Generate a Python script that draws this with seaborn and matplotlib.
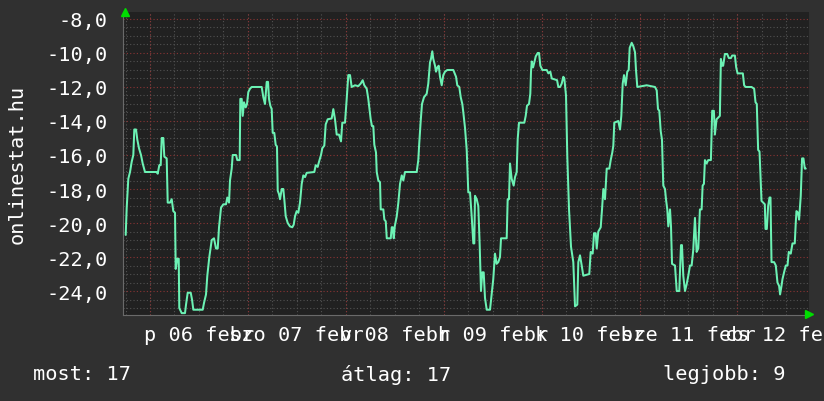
import matplotlib
matplotlib.use("Agg")
import matplotlib.pyplot as plt
from matplotlib.ticker import MultipleLocator, FixedLocator
import seaborn as sns
import pandas as pd

# hours since 6 Feb 00:00
hours = [-5.96, -5.71, -5.32, -4.90, -4.49, -4.09, -3.85, -3.43, -3.11, -2.70, -2.21, -1.79, -1.23,
         1.64, 1.89, 2.28, 2.62, 2.87, 3.26, 3.51, 4.09, 4.34, 4.90, 5.32, 5.71, 6.13, 6.30, 6.69,
         7.04, 7.18, 7.77, 8.58, 8.83, 9.24, 9.98, 10.30, 10.62, 12.92, 13.24, 13.73, 14.05, 14.54,
         15.13, 15.69, 16.18, 16.60, 16.92, 17.41, 17.97, 18.63, 18.95, 19.37, 19.61, 20.03, 20.27,
         21.08, 21.40, 21.99, 22.14, 22.48, 22.73, 23.04, 23.46, 23.78, 24.10, 24.52, 24.93, 27.38,
         27.78, 28.19, 28.61, 28.93, 29.17, 29.49, 29.83, 30.08, 30.47, 30.81, 31.13, 31.31, 31.62,
         31.87, 32.29, 32.68, 32.92, 33.27, 33.76, 34.32, 34.88, 35.23, 35.55, 35.96, 36.36, 36.77,
         37.19, 37.58, 38.00, 38.41, 40.28, 40.62, 41.11, 41.43, 41.92, 42.24, 42.73, 43.07, 43.56,
         44.54, 44.94, 45.35, 45.77, 46.33, 46.82, 47.14, 47.80, 48.22, 48.61, 49.03, 49.44, 50.25,
         51.06, 51.65, 52.14, 52.53, 53.12, 53.51, 54.10, 54.42, 54.74, 54.99, 55.40, 55.58, 55.97,
         56.39, 56.56, 57.20, 57.45, 57.79, 58.04, 59.02, 59.26, 59.51, 59.75, 60.00, 60.49, 60.88,
         61.29, 61.71, 62.10, 62.51, 65.38, 65.77, 66.02, 66.36, 66.68, 67.17, 67.83, 68.22, 68.64,
         68.88, 69.20, 69.45, 69.87, 70.11, 70.43, 70.77, 71.09, 71.51, 71.90, 72.32, 72.88, 74.35,
         75.02, 75.33, 75.82, 76.17, 76.56, 76.81, 77.22, 77.64, 78.03, 78.45, 78.86, 79.26, 79.50,
         79.67, 80.09, 80.48, 80.82, 81.14, 81.46, 81.80, 82.12, 82.54, 83.35, 83.76, 84.15, 84.57,
         84.98, 85.38, 85.80, 86.05, 87.44, 87.68, 88.00, 88.25, 88.66, 89.15, 89.48, 89.89, 90.14,
         90.46, 91.76, 92.10, 92.42, 92.91, 93.23, 93.40, 93.58, 93.90, 94.22, 94.56, 95.05, 95.37,
         95.69, 96.18, 97.26, 97.66, 98.14, 98.49, 99.79, 100.10, 100.52, 100.93, 101.32, 101.57,
         101.98, 102.30, 102.72, 103.21, 103.77, 104.19, 104.75, 105.00, 105.41, 105.83, 106.22,
         107.69, 108.03, 108.52, 108.85, 109.26, 109.51, 109.90, 110.49, 110.81, 111.13, 111.54,
         111.96, 112.60, 112.94, 113.33, 113.58, 113.82, 114.80, 115.22, 115.54, 115.88, 116.20,
         116.61, 117.00, 117.35, 117.59, 118.08, 118.48, 118.90, 119.14, 119.46, 121.76, 123.80,
         124.22, 124.53, 124.85, 125.20, 125.51, 125.83, 126.25, 126.49, 126.81, 127.06, 127.48,
         127.72, 127.97, 128.70, 129.12, 129.75, 130.17, 130.41, 130.73, 131.15, 131.56, 131.96,
         132.37, 132.78, 133.17, 133.59, 134.00, 134.40, 134.81, 135.23, 135.47, 135.79, 136.04,
         136.45, 136.84, 137.50, 137.82, 138.23, 138.48, 138.89, 139.70, 139.95, 140.27, 140.51,
         140.93, 141.49, 141.91, 142.40, 142.72, 143.38, 143.70, 144.04, 145.33, 145.65, 145.99,
         147.46, 148.10, 148.44, 148.75, 149.08, 149.42, 149.67, 149.91, 150.30, 150.72, 150.89,
         151.21, 151.53, 151.87, 152.11, 152.36, 152.99, 153.41, 153.82, 154.22, 154.46, 154.81,
         155.05, 155.44, 155.86, 156.28, 156.59, 157.08, 157.50, 158.06, 158.31, 158.48, 158.87,
         159.12, 159.53, 159.85, 160.19, 160.52, 160.76]

temps = [-20.7, -19.1, -17.4, -17.0, -16.4, -16.0, -14.5, -14.5, -15.1, -15.6, -16.0, -16.5, -17.0,
         -17.0, -17.1, -16.6, -16.6, -15.0, -15.0, -16.1, -16.2, -18.8, -18.8, -18.6, -19.3, -19.4,
         -22.7, -22.1, -22.1, -25.0, -25.3, -25.3, -24.8, -24.1, -24.1, -24.5, -25.1, -25.1, -24.7,
         -24.2, -23.1, -22.0, -21.0, -20.9, -21.5, -21.5, -20.25, -19.1, -18.9, -18.9, -18.5, -18.8,
         -17.5, -16.8, -16.0, -16.0, -16.3, -16.3, -12.7, -12.7, -13.7, -12.9, -13.2, -13.0, -12.3,
         -12.1, -12.0, -12.0, -12.6, -13.0, -11.7, -11.7, -12.7, -13.1, -13.3, -14.7, -14.7, -15.4,
         -15.5, -18.1, -18.3, -18.6, -18.0, -18.0, -18.6, -19.6, -20.0, -20.2, -20.25, -20.1, -19.6,
         -19.3, -19.4, -18.8, -17.7, -17.2, -17.3, -17.05, -17.0, -16.6, -16.7, -16.4, -16.0, -15.6,
         -15.45, -14.2, -13.9, -13.85, -13.3, -13.9, -14.8, -14.8, -15.2, -14.1, -14.1, -12.7, -11.3,
         -11.3, -12.0, -11.9, -11.95, -11.8, -11.6, -11.9, -12.1, -12.7, -13.9, -14.3, -14.3, -15.4,
         -15.85, -17.0, -17.5, -17.6, -19.2, -19.2, -19.8, -19.9, -20.9, -20.9, -20.25, -20.25, -20.9,
         -20.2, -19.6, -18.8, -17.7, -17.2, -17.5, -17.0, -17.0, -16.3, -15.25, -14.0, -13.0, -12.6,
         -12.4, -11.8, -10.55, -10.35, -9.9, -10.35, -10.75, -11.1, -10.85, -10.75, -11.4, -11.9,
         -11.3, -11.1, -11.0, -11.0, -11.4, -11.9, -12.0, -12.6, -13.0, -13.5, -14.4, -15.7, -18.2,
         -18.2, -19.6, -21.2, -21.2, -18.4, -18.6, -19.0, -21.3, -24.0, -22.9, -22.9, -24.4, -25.1,
         -25.1, -24.2, -23.3, -21.8, -22.4, -22.3, -22.0, -20.9, -20.9, -18.6, -18.6, -16.5, -17.4,
         -17.8, -17.3, -17.0, -15.05, -14.1, -14.1, -13.7, -13.1, -13.0, -12.4, -11.1, -10.5, -10.85,
         -10.55, -10.2, -10.0, -10.0, -10.75, -11.0, -11.0, -11.2, -11.1, -11.5, -11.6, -12.0, -12.0,
         -11.8, -11.4, -11.5, -12.5, -16.1, -19.2, -21.4, -22.3, -24.9, -24.8, -22.3, -21.9, -22.5,
         -23.1, -23.0, -21.7, -21.8, -20.6, -20.6, -21.5, -20.5, -20.25, -19.2, -18.0, -18.6, -16.8,
         -16.8, -16.3, -15.85, -15.45, -14.1, -14.0, -14.5, -13.7, -11.8, -11.3, -11.9, -11.1, -11.0,
         -9.7, -9.4, -9.6, -9.96, -11.0, -12.0, -11.9, -12.0, -12.2, -13.3, -13.4, -14.6, -15.1,
         -17.8, -18.0, -18.6, -19.2, -20.2, -19.2, -20.2, -22.4, -22.5, -24.0, -24.0, -21.3, -21.3,
         -23.1, -24.0, -23.6, -23.1, -22.5, -22.5, -21.6, -19.7, -21.7, -21.5, -19.2, -19.2, -17.8,
         -17.7, -16.3, -16.5, -16.3, -16.3, -13.4, -13.4, -14.8, -13.9, -13.7, -10.35, -10.75, -10.75,
         -10.06, -10.06, -10.3, -10.3, -10.15, -10.15, -10.85, -11.2, -11.2, -11.9, -12.0, -12.0,
         -12.1, -12.9, -13.0, -15.7, -15.8, -17.3, -18.7, -18.8, -18.9, -20.35, -20.35, -19.0, -18.5,
         -18.5, -22.3, -22.3, -22.5, -23.5, -23.7, -24.2, -23.7, -23.3, -22.9, -22.5, -22.5, -21.7,
         -21.8, -21.2, -21.2, -19.96, -19.3, -19.4, -19.8, -18.4, -16.2, -16.2, -16.8, -16.8]

day_label_hours = [12, 36, 60, 84, 108, 132, 156]
day_labels = ["p 06 febr", "szo 07 febr", "v 08 febr", "h 09 febr",
              "k 10 febr", "sze 11 febr", "cs 12 febr"]
y_ticks = [-8, -10, -12, -14, -16, -18, -20, -22, -24]
ylabel = "onlinestat.hu"
footer = ["most: 17", "átlag: 17", "legjobb: 9"]

df = pd.DataFrame({"hour": hours, "temp": temps})

sns.set_style("dark")
plt.rcParams["font.family"] = ["DejaVu Sans Mono", "DejaVu Sans"]

BG = "#303030"
PLOT_BG = "#212121"
FG = "#ffffff"
LINE = "#6cf2b4"

fig = plt.figure(figsize=(8.24, 4.02), dpi=100, facecolor=BG)
ax = fig.add_axes([123 / 824, 1 - 316 / 402, (809 - 123) / 824, (316 - 13) / 402])
ax.set_facecolor(PLOT_BG)

sns.lineplot(data=df, x="hour", y="temp", ax=ax, color=LINE, linewidth=1.45,
             estimator=None, sort=False, zorder=5)

ax.set_xlim(-6.62, 161.55)
ax.set_ylim(-25.41, -7.59)

# y grid
ax.yaxis.set_major_locator(FixedLocator(y_ticks))
ax.yaxis.set_minor_locator(MultipleLocator(0.5))
ax.set_yticklabels([f"{v:.1f}".replace(".", ",") for v in y_ticks])
ax.grid(False)
ax.grid(True, axis="y", which="minor", color="#525252", linestyle=(0, (1, 2)), linewidth=0.8)
ax.grid(True, axis="y", which="major", color="#8a3434", linestyle=(0, (1, 2)), linewidth=0.8)

# x: labels at noon, grid every 6 h (gray) and every 24 h (red)
ax.xaxis.set_major_locator(FixedLocator(day_label_hours))
ax.set_xticklabels(day_labels)
ax.xaxis.set_minor_locator(MultipleLocator(6))
ax.xaxis.remove_overlapping_locs = False
ax.grid(True, axis="x", which="minor", color="#525252", linestyle=(0, (1, 2)), linewidth=0.8)
for d in range(0, 168, 24):
    ax.axvline(d, color="#8a3434", linestyle=(0, (1, 2)), linewidth=0.8, zorder=1)

ax.tick_params(axis="y", which="major", length=2, color="#666666", labelsize=14.6,
               labelcolor=FG, pad=9)
ax.tick_params(axis="y", which="minor", length=2, color="#666666")
ax.tick_params(axis="x", which="major", length=0, labelsize=14.6, labelcolor=FG, pad=7)
ax.tick_params(axis="x", which="minor", length=2, color="#666666")

for s in ["top", "right"]:
    ax.spines[s].set_visible(False)
for s in ["left", "bottom"]:
    ax.spines[s].set_color("#6a6a6a")
    ax.spines[s].set_linewidth(0.8)

ax.set_xlabel("")
ax.set_ylabel("")

# axis arrows
ax.plot([0.003], [1.0], marker="^", color="#00dd00", markersize=6, transform=ax.transAxes,
        clip_on=False, zorder=10)
ax.plot([1.0], [0.003], marker=">", color="#00dd00", markersize=6, transform=ax.transAxes,
        clip_on=False, zorder=10)

fig.text(17 / 824, 1 - 164.5 / 402, ylabel, rotation=90, ha="center", va="center",
         color=FG, fontsize=14.6)

fig.text(33 / 824, 1 - 375 / 402, footer[0], ha="left", va="center", color=FG, fontsize=14.6)
fig.text(341 / 824, 1 - 375 / 402, footer[1], ha="left", va="center", color=FG, fontsize=14.6)
fig.text(663 / 824, 1 - 375 / 402, footer[2], ha="left", va="center", color=FG, fontsize=14.6)

fig.savefig("out.png", dpi=100, facecolor=BG)
